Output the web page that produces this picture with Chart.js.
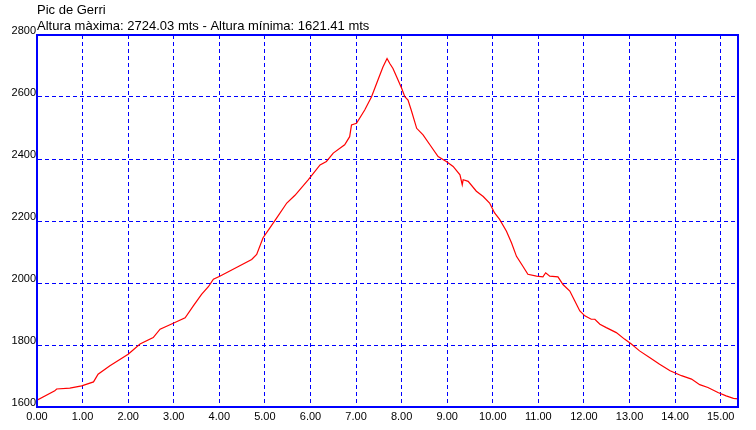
<!DOCTYPE html>
<html lang="ca">
<head>
  <meta charset="UTF-8">
  <title>Pic de Gerri</title>
  <script src="https://cdn.jsdelivr.net/npm/chart.js"></script>
  <style>
    body { margin: 0; background: #fff; }
    #wrap { width: 756px; height: 430px; }
  </style>
</head>
<body>
  <div id="wrap"><canvas id="perfil" width="756" height="430"></canvas></div>

  <script>
    // Perfil: distància (km) i altura (m)
    const distancies = [0, 0.39, 0.43, 0.72, 0.98, 1.24, 1.34, 1.60, 2.00, 2.26,
      2.55, 2.70, 2.99, 3.25, 3.43, 3.61, 3.76, 3.87, 4.01, 4.71,
      4.82, 4.96, 5.11, 5.26, 5.48, 5.66, 5.95, 6.21, 6.35, 6.50,
      6.75, 6.86, 6.90, 7.01, 7.19, 7.34, 7.48, 7.59, 7.68, 7.74,
      7.81, 7.89, 8.00, 8.07, 8.14, 8.21, 8.33, 8.47, 8.62, 8.80,
      8.98, 9.13, 9.28, 9.33, 9.35, 9.46, 9.64, 9.79, 9.93, 10.04,
      10.15, 10.30, 10.41, 10.52, 10.66, 10.77, 10.96, 11.10, 11.16, 11.25,
      11.43, 11.54, 11.69, 11.80, 11.91, 12.02, 12.16, 12.24, 12.35, 12.49,
      12.71, 12.89, 13.04, 13.22, 13.44, 13.66, 13.89, 14.14, 14.36, 14.54,
      14.72, 14.94, 15.12, 15.28, 15.38];
    const altures = [1622, 1652, 1658, 1661, 1668, 1681, 1706, 1733, 1770, 1803,
      1824, 1851, 1870, 1888, 1926, 1963, 1988, 2012, 2022, 2076,
      2092, 2146, 2178, 2210, 2258, 2283, 2333, 2381, 2392, 2419,
      2446, 2472, 2510, 2515, 2558, 2601, 2655, 2697, 2724, 2708,
      2692, 2665, 2628, 2601, 2590, 2558, 2499, 2478, 2446, 2408,
      2392, 2376, 2349, 2317, 2333, 2328, 2296, 2279, 2258, 2226,
      2205, 2167, 2130, 2086, 2054, 2028, 2022, 2020, 2033, 2022,
      2020, 1995, 1974, 1942, 1910, 1894, 1883, 1883, 1867, 1856,
      1840, 1819, 1803, 1781, 1760, 1738, 1717, 1701, 1690, 1672,
      1663, 1647, 1636, 1628, 1626];

    const titol = 'Pic de Gerri';
    const subtitol = 'Altura màxima: 2724.03 mts - Altura mínima: 1621.41 mts';
    const xMax = 15.38;
    const yMin = 1600, yMax = 2800, yStep = 200;

    const FONT = 'Arial, "Liberation Sans", sans-serif';

    // textos de capçalera + marc blau del gràfic
    const capcalera = {
      id: 'capcalera',
      afterDraw(chart) {
        const { ctx, chartArea } = chart;
        ctx.save();
        ctx.strokeStyle = '#0000ff';
        ctx.lineWidth = 2;
        ctx.strokeRect(chartArea.left, chartArea.top, chartArea.right - chartArea.left, chartArea.bottom - chartArea.top);
        ctx.fillStyle = '#000';
        ctx.font = '13px ' + FONT;
        ctx.textBaseline = 'alphabetic';
        ctx.fillText(titol, chartArea.left, 14);
        ctx.fillText(subtitol, chartArea.left, 30);
        ctx.restore();
      }
    };

    new Chart(document.getElementById('perfil'), {
      type: 'line',
      data: {
        datasets: [{
          data: distancies.map((d, i) => ({ x: d, y: altures[i] })),
          borderColor: '#ff0000',
          borderWidth: 1.2,
          pointRadius: 0,
          tension: 0,
          fill: false
        }]
      },
      options: {
        responsive: false,
        animation: false,
        layout: { padding: { top: 35, right: 18, left: 0, bottom: 0 } },
        plugins: { legend: { display: false }, tooltip: { enabled: false } },
        scales: {
          x: {
            type: 'linear',
            min: 0,
            max: xMax,
            afterFit(scale) { scale.height = 23; },
            ticks: {
              stepSize: 1,
              includeBounds: false,
              maxRotation: 0,
              padding: 3,
              color: '#000',
              font: { family: FONT, size: 11 },
              callback: v => v.toFixed(2)
            },
            grid: { color: '#0000ff', lineWidth: 1, drawTicks: false },
            border: { display: true, color: '#0000ff', width: 2, dash: [4, 3] }
          },
          y: {
            type: 'linear',
            min: yMin,
            max: yMax,
            afterFit(scale) { scale.width = 37; },
            ticks: {
              stepSize: yStep,
              padding: 1,
              labelOffset: -4,
              color: '#000',
              font: { family: FONT, size: 11 },
              callback: v => String(v)
            },
            grid: { color: '#0000ff', lineWidth: 1, drawTicks: false },
            border: { display: true, color: '#0000ff', width: 2, dash: [4, 3] }
          }
        }
      },
      plugins: [capcalera]
    });
  </script>
</body>
</html>
